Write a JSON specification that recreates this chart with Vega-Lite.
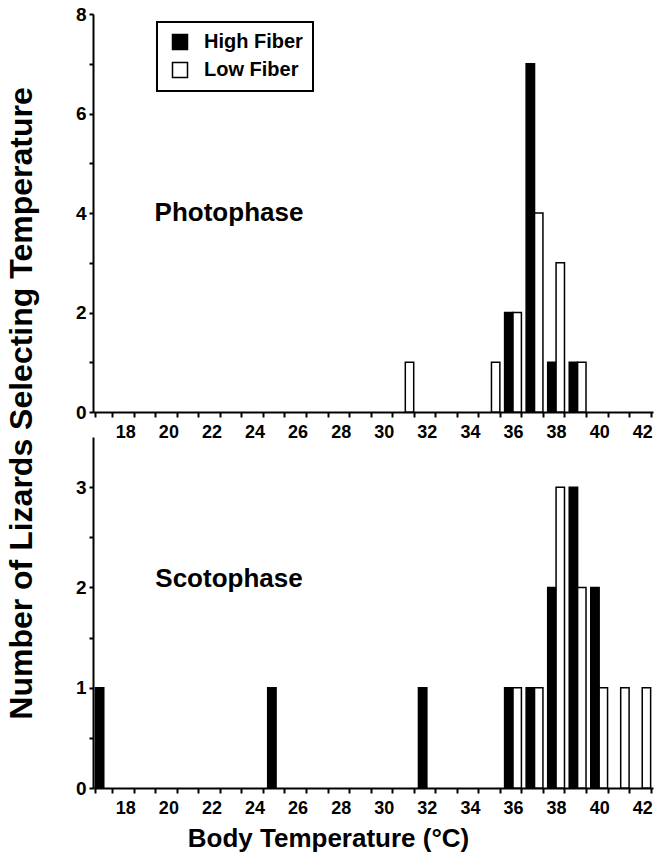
{
  "$schema": "https://vega.github.io/schema/vega-lite/v6.json",
  "background": "white",
  "padding": {"left": 5, "top": 5, "right": 2, "bottom": 5},
  "config": {
    "font": "Liberation Sans",
    "view": {"stroke": null},
    "axis": {
      "domainColor": "black", "domainWidth": 2,
      "tickColor": "black", "tickWidth": 2, "tickSize": 5,
      "labelColor": "black", "labelFont": "Liberation Sans", "labelFontWeight": "bold", "labelFontSize": 18,
      "titleColor": "black", "titleFont": "Liberation Sans", "titleFontWeight": "bold",
      "grid": false
    },
    "legend": {"strokeWidth": 2}
  },
  "datasets": {
    "photo": [
      {"temp": 31, "fiber": "Low Fiber", "count": 1},
      {"temp": 35, "fiber": "Low Fiber", "count": 1},
      {"temp": 36, "fiber": "High Fiber", "count": 2},
      {"temp": 36, "fiber": "Low Fiber", "count": 2},
      {"temp": 37, "fiber": "High Fiber", "count": 7},
      {"temp": 37, "fiber": "Low Fiber", "count": 4},
      {"temp": 38, "fiber": "High Fiber", "count": 1},
      {"temp": 38, "fiber": "Low Fiber", "count": 3},
      {"temp": 39, "fiber": "High Fiber", "count": 1},
      {"temp": 39, "fiber": "Low Fiber", "count": 1}
    ],
    "scoto": [
      {"temp": 17, "fiber": "High Fiber", "count": 1},
      {"temp": 25, "fiber": "High Fiber", "count": 1},
      {"temp": 32, "fiber": "High Fiber", "count": 1},
      {"temp": 36, "fiber": "High Fiber", "count": 1},
      {"temp": 36, "fiber": "Low Fiber", "count": 1},
      {"temp": 37, "fiber": "High Fiber", "count": 1},
      {"temp": 37, "fiber": "Low Fiber", "count": 1},
      {"temp": 38, "fiber": "High Fiber", "count": 2},
      {"temp": 38, "fiber": "Low Fiber", "count": 3},
      {"temp": 39, "fiber": "High Fiber", "count": 3},
      {"temp": 39, "fiber": "Low Fiber", "count": 2},
      {"temp": 40, "fiber": "High Fiber", "count": 2},
      {"temp": 40, "fiber": "Low Fiber", "count": 1},
      {"temp": 41, "fiber": "Low Fiber", "count": 1},
      {"temp": 42, "fiber": "Low Fiber", "count": 1}
    ]
  },
  "bounds": "flush",
  "spacing": 25,
  "resolve": {"legend": {"fill": "independent"}},
  "vconcat": [
    {
      "width": 560,
      "height": 398,
      "layer": [
        {
          "data": {"name": "photo"},
          "mark": {"type": "bar", "stroke": "black", "strokeWidth": 1.5},
          "encoding": {
            "x": {
              "field": "temp", "type": "ordinal",
              "scale": {"domain": [17,18,19,20,21,22,23,24,25,26,27,28,29,30,31,32,33,34,35,36,37,38,39,40,41,42], "paddingInner": 0.22, "paddingOuter": 0.11},
              "axis": {"title": null, "tickBand": "extent", "labelAngle": 0, "labelPadding": 6, "labelExpr": "datum.value % 2 == 0 ? datum.label : ''"}
            },
            "xOffset": {"field": "fiber", "type": "nominal", "scale": {"domain": ["High Fiber", "Low Fiber"]}},
            "y": {
              "field": "count", "type": "quantitative",
              "scale": {"domain": [0, 8], "nice": false},
              "axis": {
                "values": [0,1,2,3,4,5,6,7,8],
                "format": ".0f",
                "labelExpr": "datum.value % 2 == 0 ? datum.label : ''",
                "labelFontSize": 19, "tickSize": 4, "labelPadding": 3,
                "title": "Number of Lizards Selecting Temperature",
                "titleFontSize": 32, "titleX": -62, "titleY": 389, "titleAngle": -90,
                "titleAlign": "center", "titleBaseline": "alphabetic"
              }
            },
            "fill": {
              "field": "fiber", "type": "nominal",
              "scale": {"domain": ["High Fiber", "Low Fiber"], "range": ["black", "white"]},
              "legend": {
                "orient": "none", "legendX": 64, "legendY": 8, "title": null,
                "symbolType": "square", "symbolSize": 225, "symbolStrokeColor": "black", "symbolStrokeWidth": 1.5,
                "symbolOffset": 3,
                "labelFontSize": 20, "labelFontWeight": "bold", "labelFont": "Liberation Sans", "labelColor": "black",
                "labelOffset": 14, "rowPadding": 6,
                "strokeColor": "black", "fillColor": "white", "padding": 10
              }
            }
          }
        },
        {
          "data": {"values": [{}]},
          "mark": {"type": "text", "text": "Photophase", "fontSize": 26, "fontWeight": "bold", "font": "Liberation Sans", "color": "black", "baseline": "middle", "align": "center", "dx": -4},
          "encoding": {
            "x": {"datum": 23, "type": "ordinal"},
            "y": {"datum": 4, "type": "quantitative"}
          }
        }
      ]
    },
    {
      "width": 560,
      "height": 351,
      "layer": [
        {
          "data": {"name": "scoto"},
          "mark": {"type": "bar", "stroke": "black", "strokeWidth": 1.5},
          "encoding": {
            "x": {
              "field": "temp", "type": "ordinal",
              "scale": {"domain": [17,18,19,20,21,22,23,24,25,26,27,28,29,30,31,32,33,34,35,36,37,38,39,40,41,42], "paddingInner": 0.22, "paddingOuter": 0.11},
              "axis": {
                "tickBand": "extent", "labelAngle": 0, "labelPadding": 6,
                "labelExpr": "datum.value % 2 == 0 ? datum.label : ''",
                "title": "Body Temperature (°C)", "titleFontSize": 26,
                "titleX": 235, "titleY": 58, "titleBaseline": "alphabetic", "titleAlign": "center"
              }
            },
            "xOffset": {"field": "fiber", "type": "nominal", "scale": {"domain": ["High Fiber", "Low Fiber"]}},
            "y": {
              "field": "count", "type": "quantitative",
              "scale": {"domain": [0, 3.5], "nice": false},
              "axis": {
                "values": [0,0.5,1,1.5,2,2.5,3],
                "format": ".0f",
                "labelExpr": "datum.value % 1 == 0 ? datum.label : ''",
                "labelFontSize": 19, "tickSize": 4, "labelPadding": 3,
                "title": null
              }
            },
            "fill": {
              "field": "fiber", "type": "nominal",
              "scale": {"domain": ["High Fiber", "Low Fiber"], "range": ["black", "white"]},
              "legend": null
            }
          }
        },
        {
          "data": {"values": [{}]},
          "mark": {"type": "text", "text": "Scotophase", "fontSize": 26, "fontWeight": "bold", "font": "Liberation Sans", "color": "black", "baseline": "alphabetic", "align": "center", "dx": -4},
          "encoding": {
            "x": {"datum": 23, "type": "ordinal"},
            "y": {"datum": 2, "type": "quantitative"}
          }
        }
      ]
    }
  ]
}
